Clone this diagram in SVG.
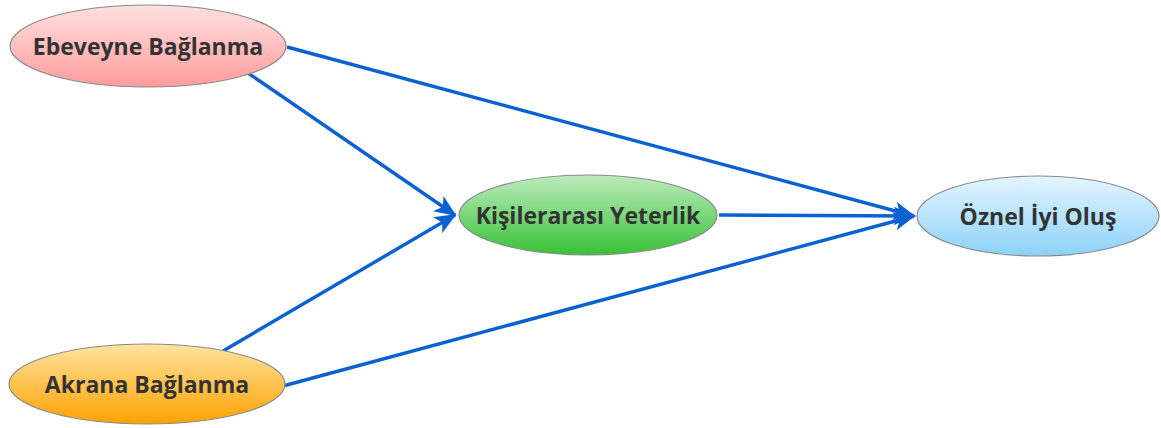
<svg xmlns="http://www.w3.org/2000/svg" width="1161" height="428" viewBox="0 0 1161 428">
<defs>
<linearGradient id="gPink" x1="0" y1="0" x2="0" y2="1"><stop offset="0" stop-color="#ffe0e0"/><stop offset="1" stop-color="#ff9c9c"/></linearGradient>
<linearGradient id="gGreen" x1="0" y1="0" x2="0" y2="1"><stop offset="0" stop-color="#bdecbd"/><stop offset="1" stop-color="#37c237"/></linearGradient>
<linearGradient id="gBlue" x1="0" y1="0" x2="0" y2="1"><stop offset="0" stop-color="#e3f5ff"/><stop offset="1" stop-color="#8dd2f8"/></linearGradient>
<linearGradient id="gOrange" x1="0" y1="0" x2="0" y2="1"><stop offset="0" stop-color="#ffe3a0"/><stop offset="1" stop-color="#ffa200"/></linearGradient>
<marker id="arr" viewBox="0 0 12 10" refX="11" refY="5" markerWidth="6.5" markerHeight="5.5" markerUnits="strokeWidth" orient="auto">
<path d="M0,0 L12,5 L0,10 L3,5 Z" fill="#0a62d2"/>
</marker>
<style>
.node ellipse{stroke:#8a8a8a;stroke-width:1.2}
.node text{font-family:"Open Sans","Noto Sans","Liberation Sans",sans-serif;font-weight:bold;font-size:23px;fill:#333;text-anchor:middle;dominant-baseline:central}
.edge{stroke:#0a62d2;stroke-width:3.4;fill:none;marker-end:url(#arr)}
</style>
</defs>
<g id="connectors">
<line class="edge" x1="287" y1="47" x2="914" y2="216"/>
<line class="edge" x1="248" y1="73" x2="455" y2="215"/>
<line class="edge" x1="223" y1="351" x2="455" y2="215"/>
<line class="edge" x1="283" y1="386" x2="914" y2="216"/>
<line class="edge" x1="719" y1="215" x2="914" y2="216"/>
</g>
<g id="ebeveyne" class="node">
<ellipse cx="148" cy="46" rx="138" ry="41" fill="url(#gPink)"/>
<text x="148" y="46">Ebeveyne Bağlanma</text>
</g>
<g id="kisilerarasi" class="node">
<ellipse cx="588" cy="215" rx="129" ry="40" fill="url(#gGreen)"/>
<text x="588" y="215">Kişilerarası Yeterlik</text>
</g>
<g id="oznel" class="node">
<ellipse cx="1038" cy="216" rx="121" ry="40" fill="url(#gBlue)"/>
<text x="1038" y="216">Öznel İyi Oluş</text>
</g>
<g id="akrana" class="node">
<ellipse cx="147" cy="384" rx="138" ry="40" fill="url(#gOrange)"/>
<text x="147" y="384">Akrana Bağlanma</text>
</g>
</svg>
